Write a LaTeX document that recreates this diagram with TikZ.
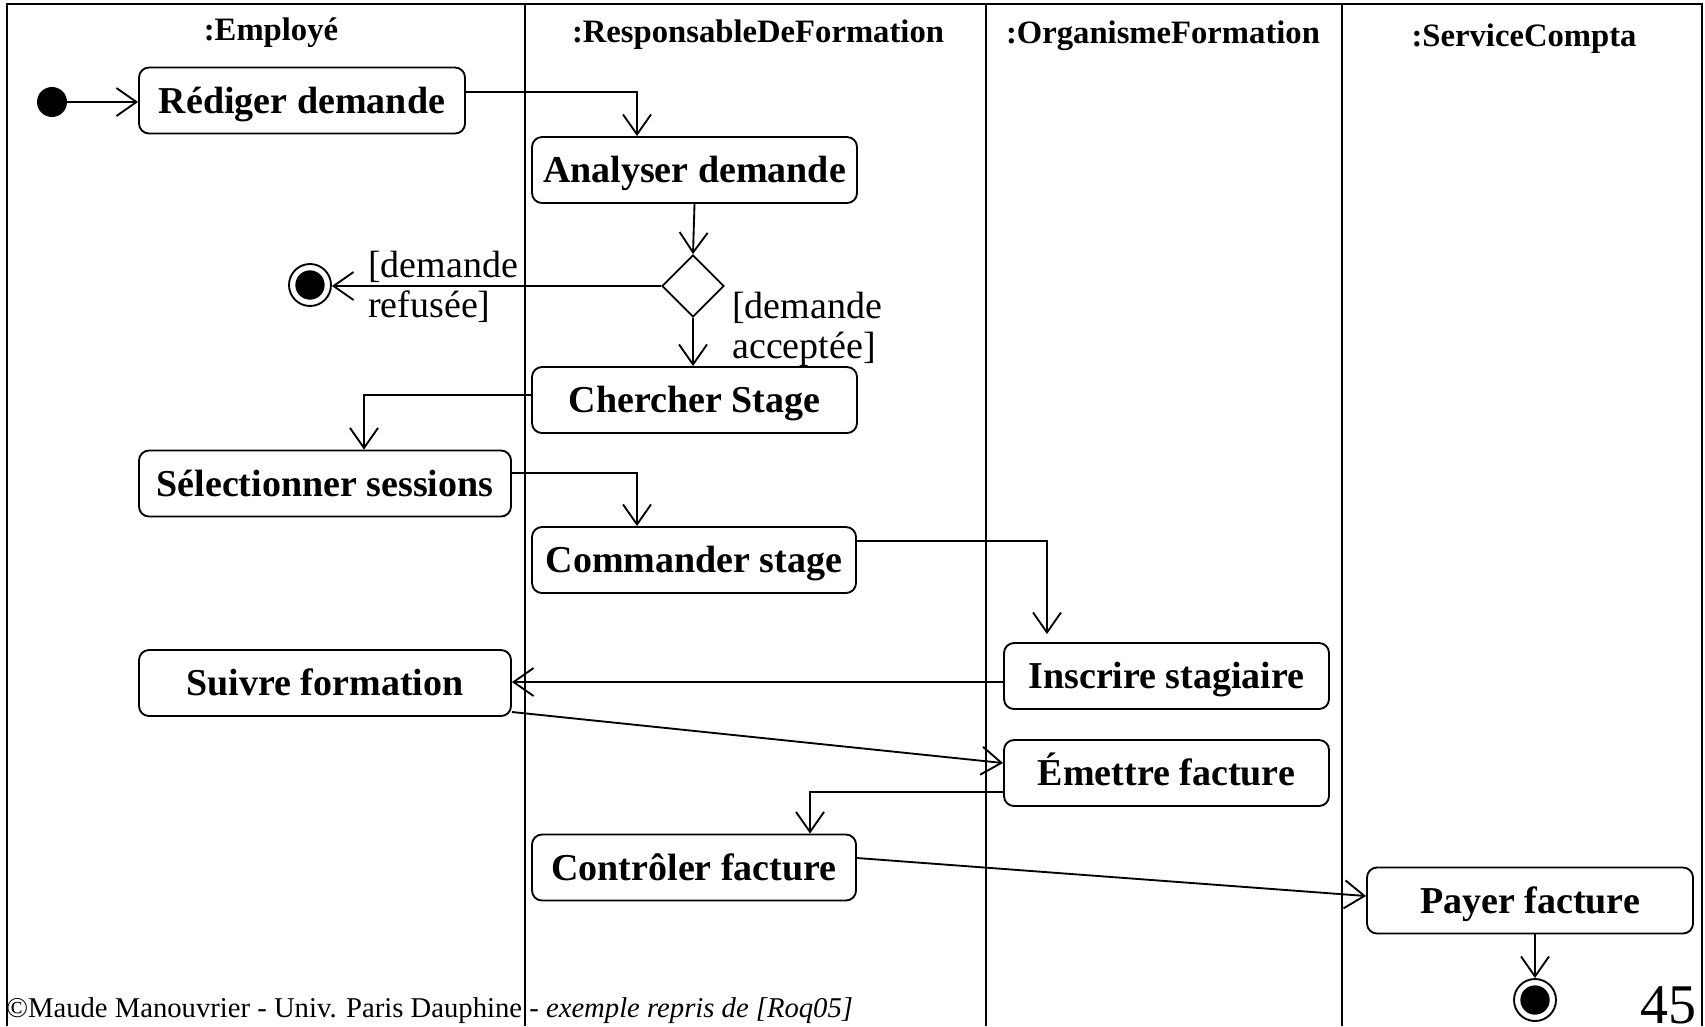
\documentclass[tikz,border=0pt]{standalone}
\usepackage{fontspec}
\setmainfont{Liberation Serif}
\usetikzlibrary{arrows.meta,shapes.geometric,calc}

\begin{document}
\begin{tikzpicture}[x=0.75pt,y=-0.75pt,
  lw/.style={line width=1.4pt},
  lane/.style={lw},
  action/.style={draw,lw,rounded corners=7.5pt,inner sep=0pt,
    minimum height=49.5pt,text height=19pt,text depth=0pt,
    font=\fontsize{28.5pt}{32pt}\selectfont\bfseries},
  lanetitle/.style={anchor=base,inner sep=0pt,
    font=\fontsize{24.5pt}{28pt}\selectfont\bfseries},
  guard/.style={anchor=base west,inner sep=0pt,align=left,
    font=\fontsize{28.5pt}{30pt}\selectfont},
  startnode/.style={circle,fill,inner sep=0pt,minimum size=22.5pt},
  endnode/.style={circle,draw,lw,fill=white,inner sep=0pt,minimum size=31.5pt,
    path picture={\fill[black] (path picture bounding box.center) circle (11pt);}},
  decision/.style={diamond,draw,lw,inner sep=0pt,minimum width=46.5pt,minimum height=46.5pt,aspect=1},
  flow/.style={lw,-{Straight Barb[length=15pt,width=21pt]}},
]
\useasboundingbox (0,0) rectangle (1705,1026);

% frame and swimlanes
\draw[lw] (7,1026) -- (7,4) -- (1702,4) -- (1702,1026);
\draw[lane] (525,4) -- (525,1026);
\draw[lane] (986,4) -- (986,1026);
\draw[lane] (1342,4) -- (1342,1026);

% lane titles
\node[lanetitle] (tEmp) at (271,40) {:Employé};
\node[lanetitle] (tResp) at (758,42) {:ResponsableDeFormation};
\node[lanetitle] (tOrg) at (1163,43) {:OrganismeFormation};
\node[lanetitle] (tComp) at (1524,46) {:ServiceCompta};

% activity nodes
\node[startnode] (init) at (52,102) {};
\node[action,minimum width=244.5pt] (redig) at (302,100.5) {Rédiger demande};
\node[action,minimum width=243.75pt] (analy) at (694.5,170) {Analyser demande};
\node[decision] (dia) at (693,286) {};
\node[endnode] (fin1) at (310,285) {};
\node[action,minimum width=243.75pt] (cherch) at (694.5,400) {Chercher Stage};
\node[action,minimum width=279pt] (select) at (325,483.5) {Sélectionner sessions};
\node[action,minimum width=243pt] (command) at (694,560) {Commander stage};
\node[action,minimum width=243.75pt] (inscr) at (1166.5,676) {Inscrire stagiaire};
\node[action,minimum width=279pt] (suivre) at (325,683) {Suivre formation};
\node[action,minimum width=243.75pt] (emettre) at (1166.5,773) {Émettre facture};
\node[action,minimum width=243pt] (control) at (694,867.5) {Contrôler facture};
\node[action,minimum width=244.5pt] (payer) at (1530,900.5) {Payer facture};
\node[endnode] (fin2) at (1535,1000) {};

% guards (anchored on the baseline of their last line)
\node[guard] (gRef) at (368,317) {[demande\\refusée]};
\node[guard] (gAcc) at (732,358) {[demande\\acceptée]};

% control flows
\draw[flow] (init.east) -- (init.east -| redig.west);
\draw[flow] ($(redig.east)+(0,-8.5)$) -| ($(analy.north)+(-57.5,0)$);
\draw[flow] (analy.south) -- (dia.north);
\draw[flow] (dia.west) -- (dia.west -| fin1.east);
\draw[flow] (dia.south) -- (dia.south |- cherch.north);
\draw[flow] ($(cherch.west)+(0,-5)$) -| ($(select.north)+(39,0)$);
\draw[flow] ($(select.east)+(0,-10.5)$) -| ($(command.north)+(-57,0)$);
\draw[flow] ($(command.east)+(0,-19)$) -| ($(inscr.north)+(-119.5,-8)$);
\draw[flow] ($(inscr.west)+(0,6)$) -- ($(suivre.east)+(0,-1)$);
\draw[flow] ($(suivre.east)+(0,29)$) -- ($(emettre.west)+(0,-10)$);
\draw[flow] ($(emettre.west)+(0,19)$) -| ($(control.north)+(116,0)$);
\draw[flow] ($(control.east)+(0,-9.5)$) -- ($(payer.west)+(0,-4.5)$);
\draw[flow] (fin2 |- payer.south) -- (fin2.north);

% footer and page number
\node[anchor=base west,inner sep=0pt,font=\fontsize{21.5pt}{24pt}\selectfont] (foot) at (6,1017)
  {©Maude Manouvrier - Univ. Paris Dauphine - \textit{exemple repris de [Roq05]}};
\node[anchor=base west,inner sep=0pt,font=\fontsize{42pt}{44pt}\selectfont] (pnum) at (1640,1023) {45};
\end{tikzpicture}
\end{document}
